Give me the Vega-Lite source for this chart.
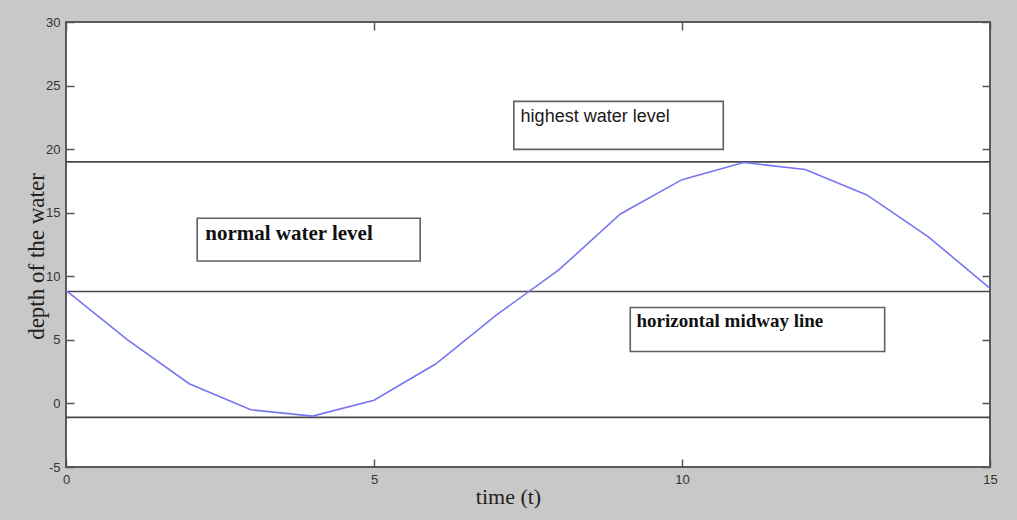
{
  "$schema": "https://vega.github.io/schema/vega-lite/v6.json",
  "width": 924,
  "height": 445,
  "autosize": "none",
  "padding": {"left": 66, "top": 22, "right": 27, "bottom": 53},
  "background": "#c8c8c8",
  "config": {"view": {"fill": "white", "stroke": "#5a5a5a", "strokeWidth": 2}},
  "datasets": {
    "wave": [
      {"t": 0, "depth": 8.9}, {"t": 1, "depth": 5.0}, {"t": 2, "depth": 1.55}, {"t": 3, "depth": -0.5},
      {"t": 4, "depth": -1.0}, {"t": 5, "depth": 0.25}, {"t": 6, "depth": 3.1}, {"t": 7, "depth": 7.0},
      {"t": 8, "depth": 10.5}, {"t": 9, "depth": 14.9}, {"t": 10, "depth": 17.6}, {"t": 11, "depth": 18.95},
      {"t": 12, "depth": 18.4}, {"t": 13, "depth": 16.4}, {"t": 14, "depth": 13.1}, {"t": 15, "depth": 9.05}
    ],
    "levels": [{"level": 19.0}, {"level": 8.8}, {"level": -1.1}],
    "boxes": [
      {"x1": 7.27, "x2": 10.67, "y1": 23.76, "y2": 19.98},
      {"x1": 2.13, "x2": 5.75, "y1": 14.56, "y2": 11.2},
      {"x1": 9.16, "x2": 13.29, "y1": 7.55, "y2": 4.09}
    ],
    "labelHigh": [{"label": "highest water level", "tx": 7.38, "ty": 22.1}],
    "labelNormal": [{"label": "normal water level", "tx": 2.26, "ty": 12.82}],
    "labelMid": [{"label": "horizontal midway line", "tx": 9.26, "ty": 5.98}]
  },
  "layer": [
    {
      "data": {"name": "levels"},
      "mark": {"type": "rule", "color": "#4a4a4a", "strokeWidth": 1.6},
      "encoding": {
        "y": {"field": "level", "type": "quantitative", "scale": {"domain": [-5, 30], "nice": false, "zero": false}, "axis": null}
      }
    },
    {
      "data": {"name": "boxes"},
      "mark": {"type": "rect", "fill": "white", "stroke": "#606060", "strokeWidth": 1.6},
      "encoding": {
        "x": {"field": "x1", "type": "quantitative", "scale": {"domain": [0, 15], "nice": false, "zero": false}, "axis": null},
        "x2": {"field": "x2"},
        "y": {"field": "y1", "type": "quantitative", "scale": {"domain": [-5, 30], "nice": false, "zero": false}, "axis": null},
        "y2": {"field": "y2"}
      }
    },
    {
      "data": {"name": "labelHigh"},
      "mark": {"type": "text", "align": "left", "baseline": "alphabetic", "font": "Liberation Sans", "fontSize": 18, "color": "#1a1a1a"},
      "encoding": {
        "x": {"field": "tx", "type": "quantitative", "scale": {"domain": [0, 15], "nice": false, "zero": false}, "axis": null},
        "y": {"field": "ty", "type": "quantitative", "scale": {"domain": [-5, 30], "nice": false, "zero": false}, "axis": null},
        "text": {"field": "label"}
      }
    },
    {
      "data": {"name": "labelNormal"},
      "mark": {"type": "text", "align": "left", "baseline": "alphabetic", "font": "Liberation Serif", "fontWeight": "bold", "fontSize": 21, "color": "#111111"},
      "encoding": {
        "x": {"field": "tx", "type": "quantitative", "scale": {"domain": [0, 15], "nice": false, "zero": false}, "axis": null},
        "y": {"field": "ty", "type": "quantitative", "scale": {"domain": [-5, 30], "nice": false, "zero": false}, "axis": null},
        "text": {"field": "label"}
      }
    },
    {
      "data": {"name": "labelMid"},
      "mark": {"type": "text", "align": "left", "baseline": "alphabetic", "font": "Liberation Serif", "fontWeight": "bold", "fontSize": 19, "color": "#111111"},
      "encoding": {
        "x": {"field": "tx", "type": "quantitative", "scale": {"domain": [0, 15], "nice": false, "zero": false}, "axis": null},
        "y": {"field": "ty", "type": "quantitative", "scale": {"domain": [-5, 30], "nice": false, "zero": false}, "axis": null},
        "text": {"field": "label"}
      }
    },
    {
      "data": {"name": "wave"},
      "mark": {"type": "line", "color": "#7676f2", "strokeWidth": 1.6},
      "encoding": {
        "x": {"field": "t", "type": "quantitative", "scale": {"domain": [0, 15], "nice": false, "zero": false},
          "axis": {"orient": "bottom", "values": [0, 5, 10, 15], "tickSize": -8, "labelPadding": 14, "tickColor": "#555555", "tickWidth": 1.5, "domain": false, "grid": false,
            "labelFont": "Liberation Sans", "labelFontSize": 13, "labelColor": "#333333", "labelFlush": false, "labelExpr": "toString(datum.value)",
            "title": "time (t)", "titleFont": "Liberation Serif", "titleFontSize": 22, "titleFontWeight": "normal", "titleColor": "#222222",
            "titleX": 442, "titleY": 29, "titleBaseline": "middle", "titleAlign": "center"}},
        "y": {"field": "depth", "type": "quantitative", "scale": {"domain": [-5, 30], "nice": false, "zero": false},
          "axis": {"orient": "left", "values": [-5, 0, 5, 10, 15, 20, 25, 30], "tickSize": -8, "labelPadding": 14, "tickColor": "#555555", "tickWidth": 1.5, "domain": false, "grid": false,
            "labelFont": "Liberation Sans", "labelFontSize": 13, "labelColor": "#333333", "labelFlush": false, "labelExpr": "toString(datum.value)",
            "title": "depth of the water", "titleFont": "Liberation Serif", "titleFontSize": 23, "titleFontWeight": "normal", "titleColor": "#222222",
            "titleX": -30, "titleY": 234, "titleBaseline": "middle", "titleAlign": "center", "titleAngle": 270}}
      }
    },
    {
      "data": {"name": "wave"},
      "mark": {"type": "point", "opacity": 0},
      "encoding": {
        "x": {"field": "t", "type": "quantitative", "scale": {"domain": [0, 15], "nice": false, "zero": false},
          "axis": {"orient": "top", "values": [0, 5, 10, 15], "tickSize": -8, "tickColor": "#555555", "tickWidth": 1.5, "domain": false, "grid": false, "labels": false, "title": null}},
        "y": {"field": "depth", "type": "quantitative", "scale": {"domain": [-5, 30], "nice": false, "zero": false},
          "axis": {"orient": "right", "values": [-5, 0, 5, 10, 15, 20, 25, 30], "tickSize": -8, "tickColor": "#555555", "tickWidth": 1.5, "domain": false, "grid": false, "labels": false, "title": null}}
      }
    }
  ],
  "resolve": {"scale": {"x": "independent", "y": "independent"}}
}
